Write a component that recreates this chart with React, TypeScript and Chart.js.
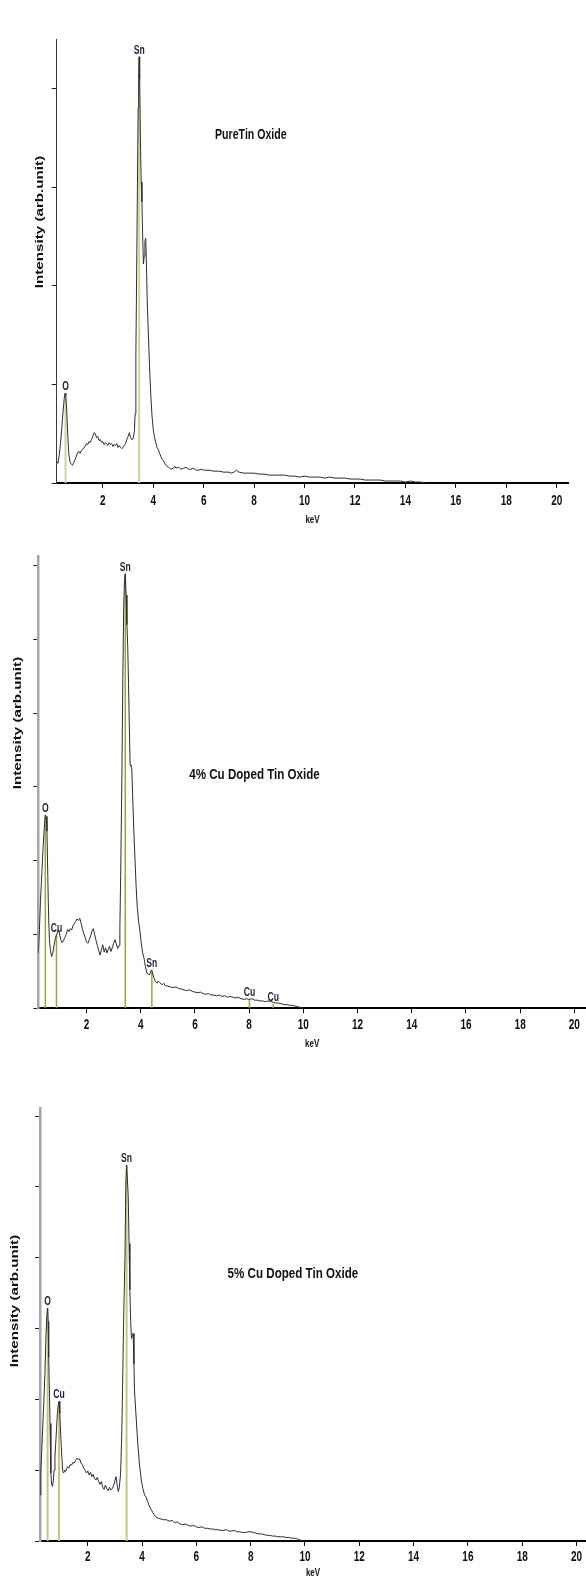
import React, { useEffect, useRef } from "react";
import { Chart, registerables } from "chart.js";

Chart.register(...registerables);

type Pt = [number, number];

// ---------- data ----------
const energyTicks = [2, 4, 6, 8, 10, 12, 14, 16, 18, 20];
const pureYTicks = [0, 1, 2, 3, 4];
const dopedYTicks = [0, 1, 2, 3, 4, 5, 6];

const yAxisTitle = "Intensity (arb.unit)";
const xAxisTitle = "keV";
const sampleNames = ["PureTin Oxide", "4% Cu Doped Tin Oxide", "5% Cu Doped Tin Oxide"];

const pureTinSpectrum: Pt[] = [
  [0.17, 0.22], [0.22, 0.2], [0.27, 0.28], [0.32, 0.4], [0.37, 0.55], [0.42, 0.72], [0.47, 0.86],
  [0.5, 0.91], [0.53, 0.89], [0.57, 0.72], [0.61, 0.48], [0.65, 0.3], [0.7, 0.21], [0.75, 0.19],
  [0.8, 0.18], [0.85, 0.21], [0.9, 0.24], [0.95, 0.27], [1.0, 0.31], [1.05, 0.32], [1.1, 0.3],
  [1.15, 0.33], [1.2, 0.34], [1.25, 0.36], [1.3, 0.37], [1.35, 0.4], [1.4, 0.39], [1.45, 0.42],
  [1.5, 0.41], [1.55, 0.44], [1.6, 0.47], [1.65, 0.51], [1.7, 0.5], [1.75, 0.46], [1.8, 0.47],
  [1.85, 0.43], [1.9, 0.44], [1.95, 0.41], [2.0, 0.42], [2.05, 0.39], [2.1, 0.41], [2.15, 0.4],
  [2.2, 0.38], [2.25, 0.41], [2.3, 0.39], [2.35, 0.4], [2.4, 0.37], [2.45, 0.39], [2.5, 0.38],
  [2.55, 0.4], [2.6, 0.36], [2.65, 0.38], [2.7, 0.36], [2.75, 0.35], [2.8, 0.36], [2.85, 0.38],
  [2.9, 0.4], [2.95, 0.44], [3.0, 0.47], [3.05, 0.51], [3.1, 0.46], [3.15, 0.44], [3.2, 0.45],
  [3.25, 0.52], [3.28, 0.7], [3.31, 1.3], [3.34, 2.1], [3.37, 2.95], [3.4, 3.8], [3.42, 4.15],
  [3.44, 4.32], [3.46, 4.1], [3.49, 3.5], [3.52, 3.05], [3.55, 2.85], [3.58, 2.5], [3.61, 2.22],
  [3.64, 2.3], [3.67, 2.45], [3.7, 2.48], [3.73, 2.2], [3.76, 1.85], [3.8, 1.55], [3.85, 1.2],
  [3.9, 0.9], [3.95, 0.68], [4.0, 0.54], [4.05, 0.46], [4.1, 0.41], [4.15, 0.36], [4.2, 0.34],
  [4.25, 0.3], [4.3, 0.27], [4.35, 0.24], [4.4, 0.23], [4.45, 0.2], [4.5, 0.18], [4.55, 0.17],
  [4.6, 0.16], [4.65, 0.15], [4.7, 0.14], [4.8, 0.15], [4.85, 0.17], [4.9, 0.15], [5.0, 0.16],
  [5.1, 0.14], [5.2, 0.15], [5.3, 0.16], [5.4, 0.14], [5.5, 0.14], [5.6, 0.15], [5.7, 0.13],
  [5.8, 0.13], [5.9, 0.14], [6.0, 0.13], [6.2, 0.13], [6.4, 0.12], [6.6, 0.12], [6.8, 0.11],
  [7.0, 0.11], [7.1, 0.1], [7.2, 0.11], [7.3, 0.13], [7.4, 0.11], [7.6, 0.1], [7.8, 0.1],
  [8.0, 0.1], [8.2, 0.09], [8.4, 0.09], [8.6, 0.08], [8.8, 0.08], [9.0, 0.08], [9.2, 0.08],
  [9.4, 0.07], [9.6, 0.07], [9.8, 0.06], [10.0, 0.07], [10.2, 0.06], [10.4, 0.06], [10.6, 0.06],
  [10.8, 0.05], [11.0, 0.06], [11.2, 0.05], [11.4, 0.05], [11.6, 0.05], [11.8, 0.04], [12.0, 0.04],
  [12.2, 0.04], [12.4, 0.03], [12.6, 0.03], [12.8, 0.03], [13.0, 0.03], [13.2, 0.02], [13.4, 0.02],
  [13.6, 0.02], [13.8, 0.02], [14.0, 0.01], [14.2, 0.02], [14.4, 0.01], [14.6, 0.01], [14.8, 0.0],
];

const cu4Spectrum: Pt[] = [
  [0.22, 0.75], [0.26, 1.05], [0.3, 1.45], [0.35, 1.83], [0.4, 2.2], [0.45, 2.5], [0.48, 2.62],
  [0.51, 2.6], [0.54, 2.4], [0.57, 1.8], [0.6, 1.25], [0.63, 0.93], [0.67, 0.78], [0.71, 0.7],
  [0.75, 0.74], [0.8, 0.85], [0.85, 0.95], [0.9, 1.0], [0.95, 1.06], [1.0, 1.02], [1.05, 0.93],
  [1.1, 0.89], [1.15, 0.92], [1.2, 0.96], [1.25, 1.0], [1.3, 1.07], [1.35, 1.04], [1.4, 1.08],
  [1.45, 1.06], [1.5, 1.12], [1.55, 1.15], [1.6, 1.18], [1.65, 1.21], [1.7, 1.19], [1.75, 1.22],
  [1.8, 1.15], [1.85, 1.07], [1.9, 1.01], [1.95, 0.96], [2.0, 0.9], [2.05, 0.88], [2.1, 0.93],
  [2.15, 0.98], [2.2, 1.05], [2.25, 1.08], [2.3, 1.0], [2.35, 0.92], [2.4, 0.85], [2.45, 0.78],
  [2.5, 0.72], [2.55, 0.8], [2.6, 0.86], [2.65, 0.76], [2.7, 0.82], [2.75, 0.75], [2.8, 0.8],
  [2.85, 0.84], [2.9, 0.77], [2.95, 0.82], [3.0, 0.88], [3.05, 0.93], [3.1, 0.87], [3.15, 0.81],
  [3.2, 0.85], [3.23, 1.1], [3.26, 1.8], [3.3, 3.0], [3.34, 4.5], [3.37, 5.4], [3.4, 5.8],
  [3.43, 5.89], [3.46, 5.6], [3.49, 5.2], [3.52, 4.9], [3.55, 4.4], [3.58, 3.8], [3.61, 3.3],
  [3.64, 3.28], [3.67, 3.25], [3.7, 2.9], [3.74, 2.45], [3.79, 2.0], [3.83, 1.65], [3.87, 1.38],
  [3.92, 1.18], [3.97, 1.05], [4.02, 0.88], [4.07, 0.75], [4.12, 0.68], [4.17, 0.57], [4.22, 0.48],
  [4.27, 0.47], [4.32, 0.45], [4.37, 0.5], [4.4, 0.52], [4.45, 0.46], [4.5, 0.4], [4.55, 0.36],
  [4.6, 0.34], [4.65, 0.37], [4.7, 0.35], [4.75, 0.33], [4.8, 0.32], [4.85, 0.34], [4.9, 0.31],
  [5.0, 0.3], [5.1, 0.29], [5.2, 0.28], [5.3, 0.29], [5.4, 0.27], [5.5, 0.26], [5.6, 0.25],
  [5.7, 0.24], [5.8, 0.25], [5.9, 0.23], [6.0, 0.22], [6.1, 0.21], [6.2, 0.22], [6.3, 0.2],
  [6.4, 0.19], [6.5, 0.2], [6.6, 0.18], [6.7, 0.18], [6.8, 0.17], [6.9, 0.18], [7.0, 0.16],
  [7.1, 0.17], [7.2, 0.15], [7.3, 0.16], [7.4, 0.15], [7.5, 0.14], [7.6, 0.15], [7.7, 0.13],
  [7.8, 0.12], [7.9, 0.13], [8.0, 0.12], [8.1, 0.13], [8.2, 0.11], [8.3, 0.11], [8.4, 0.1],
  [8.5, 0.1], [8.6, 0.09], [8.7, 0.1], [8.8, 0.09], [8.9, 0.08], [9.0, 0.07], [9.1, 0.07],
  [9.2, 0.06], [9.3, 0.05], [9.4, 0.05], [9.5, 0.04], [9.6, 0.04], [9.7, 0.03], [9.8, 0.02],
  [9.9, 0.01], [10.0, 0.0],
];

const cu5Spectrum: Pt[] = [
  [0.24, 0.65], [0.27, 0.96], [0.3, 1.25], [0.34, 1.6], [0.38, 1.95], [0.42, 2.35], [0.46, 2.9],
  [0.49, 3.17], [0.52, 3.29], [0.54, 3.1], [0.56, 2.6], [0.59, 2.05], [0.61, 1.66], [0.64, 0.96],
  [0.67, 0.8], [0.7, 0.77], [0.73, 0.85], [0.76, 1.0], [0.79, 1.19], [0.83, 1.45], [0.88, 1.8],
  [0.91, 1.92], [0.94, 1.97], [0.97, 1.8], [1.01, 1.43], [1.05, 1.15], [1.08, 0.98], [1.11, 0.96],
  [1.15, 1.0], [1.18, 0.98], [1.22, 1.02], [1.26, 1.05], [1.3, 1.03], [1.35, 1.08], [1.4, 1.07],
  [1.45, 1.11], [1.5, 1.1], [1.55, 1.14], [1.6, 1.17], [1.65, 1.15], [1.7, 1.16], [1.75, 1.1],
  [1.8, 1.08], [1.85, 1.03], [1.9, 1.0], [1.95, 0.96], [2.0, 0.99], [2.05, 0.93], [2.1, 0.97],
  [2.15, 0.91], [2.2, 0.94], [2.25, 0.88], [2.3, 0.86], [2.35, 0.9], [2.4, 0.84], [2.45, 0.8],
  [2.5, 0.84], [2.55, 0.76], [2.6, 0.73], [2.65, 0.79], [2.7, 0.74], [2.75, 0.71], [2.8, 0.76],
  [2.85, 0.72], [2.9, 0.74], [2.95, 0.78], [3.0, 0.85], [3.04, 0.91], [3.08, 0.8], [3.12, 0.7],
  [3.16, 0.75], [3.21, 0.96], [3.25, 1.5], [3.28, 2.13], [3.32, 3.1], [3.37, 4.02], [3.4, 5.0],
  [3.43, 5.31], [3.46, 5.1], [3.49, 4.86], [3.52, 4.2], [3.55, 3.55], [3.58, 3.1], [3.61, 2.86],
  [3.64, 2.9], [3.67, 2.93], [3.7, 2.5], [3.72, 2.13], [3.78, 1.75], [3.84, 1.38], [3.9, 1.1],
  [3.97, 0.86], [4.03, 0.74], [4.09, 0.65], [4.15, 0.62], [4.2, 0.56], [4.28, 0.48], [4.34, 0.44],
  [4.4, 0.4], [4.45, 0.37], [4.51, 0.34], [4.6, 0.32], [4.7, 0.31], [4.8, 0.3], [4.9, 0.3],
  [5.0, 0.28], [5.1, 0.29], [5.2, 0.26], [5.3, 0.27], [5.4, 0.24], [5.5, 0.23], [5.6, 0.24],
  [5.7, 0.22], [5.8, 0.21], [5.9, 0.22], [6.0, 0.2], [6.1, 0.19], [6.2, 0.2], [6.3, 0.18],
  [6.4, 0.18], [6.5, 0.17], [6.6, 0.17], [6.7, 0.16], [6.8, 0.16], [6.9, 0.15], [7.0, 0.15],
  [7.1, 0.16], [7.2, 0.14], [7.3, 0.14], [7.4, 0.15], [7.5, 0.13], [7.6, 0.13], [7.7, 0.12],
  [7.8, 0.12], [7.9, 0.13], [8.0, 0.13], [8.1, 0.12], [8.2, 0.11], [8.3, 0.1], [8.4, 0.1],
  [8.5, 0.09], [8.6, 0.08], [8.7, 0.08], [8.8, 0.07], [8.9, 0.07], [9.0, 0.06], [9.1, 0.06],
  [9.2, 0.06], [9.3, 0.05], [9.4, 0.05], [9.5, 0.04], [9.6, 0.04], [9.7, 0.03], [9.8, 0.02],
  [9.9, 0.0],
];

const pureTinPeakNames = ["O", "Sn"];
const pureTinPeakEnergies = [0.52, 3.44];
const pureTinPeakHeights = [0.91, 4.32];

const cu4PeakNames = ["O", "Cu", "Sn", "Sn", "Cu", "Cu"];
const cu4PeakEnergies = [0.48, 0.89, 3.43, 4.41, 8.01, 8.89];
const cu4PeakHeights = [2.62, 1.0, 5.89, 0.52, 0.12, 0.06];

const cu5PeakNames = ["O", "Cu", "Sn"];
const cu5PeakEnergies = [0.52, 0.94, 3.43];
const cu5PeakHeights = [3.29, 1.97, 5.31];

// ---------- layout / style ----------
type PanelCfg = {
  top: number; bottom: number;
  plotLeft: number; plotRight: number; plotTop: number; plotBottom: number;
  xMin: number; xMax: number; yMax: number;
  spectrum: Pt[]; yTicks: number[];
  peakNames: string[]; peakEnergies: number[]; peakHeights: number[];
  name: string; nameX: number; nameY: number; nameFont: number;
  markerColor: string; markerWidth: number;
  yAxisColor: string; yAxisWidth: number;
  tickLabelOffset: number; keVY: number; yTitleX: number; yTitleY: number;
};

const panels: PanelCfg[] = [
  {
    top: 0, bottom: 532, plotLeft: 56.7, plotRight: 568.3, plotTop: 39, plotBottom: 483,
    xMin: 0.17, xMax: 20.46, yMax: 4.5, spectrum: pureTinSpectrum, yTicks: pureYTicks,
    peakNames: pureTinPeakNames, peakEnergies: pureTinPeakEnergies, peakHeights: pureTinPeakHeights,
    name: sampleNames[0], nameX: 6.45, nameY: 3.53, nameFont: 10.6,
    markerColor: "#d6d296", markerWidth: 2, yAxisColor: "#3a3a3a", yAxisWidth: 1,
    tickLabelOffset: 18, keVY: 520, yTitleX: 40.5, yTitleY: 222,
  },
  {
    top: 532, bottom: 1082, plotLeft: 38.3, plotRight: 586, plotTop: 556.7, plotBottom: 1008.3,
    xMin: 0.22, xMax: 20.43, yMax: 6.12, spectrum: cu4Spectrum, yTicks: dopedYTicks,
    peakNames: cu4PeakNames, peakEnergies: cu4PeakEnergies, peakHeights: cu4PeakHeights,
    name: sampleNames[1], nameX: 5.79, nameY: 3.17, nameFont: 11.6,
    markerColor: "#a89e3c", markerWidth: 1.5, yAxisColor: "#a6a6a6", yAxisWidth: 2.5,
    tickLabelOffset: 17, keVY: 1044, yTitleX: 18.5, yTitleY: 723,
  },
  {
    top: 1082, bottom: 1580, plotLeft: 40, plotRight: 586, plotTop: 1108.3, plotBottom: 1541,
    xMin: 0.24, xMax: 20.35, yMax: 6.11, spectrum: cu5Spectrum, yTicks: dopedYTicks,
    peakNames: cu5PeakNames, peakEnergies: cu5PeakEnergies, peakHeights: cu5PeakHeights,
    name: sampleNames[2], nameX: 7.15, nameY: 3.77, nameFont: 11.6,
    markerColor: "#cac57e", markerWidth: 2, yAxisColor: "#a6a6a6", yAxisWidth: 2.5,
    tickLabelOffset: 16, keVY: 1573.3, yTitleX: 15.5, yTitleY: 1301,
  },
];

const SANS = "'Liberation Sans', Arial, 'DejaVu Sans', sans-serif";

function putText(
  ctx: CanvasRenderingContext2D, text: string, x: number, y: number,
  font: string, color: string, stretch: number,
  align: CanvasTextAlign = "center", baseline: CanvasTextBaseline = "middle", rotate = false
) {
  ctx.save();
  ctx.translate(x, y);
  ctx.scale(1, stretch);
  if (rotate) ctx.rotate(-Math.PI / 2);
  ctx.font = font;
  ctx.fillStyle = color;
  ctx.textAlign = align;
  ctx.textBaseline = baseline;
  ctx.fillText(text, 0, 0);
  ctx.restore();
}

function SpectrumPanel({ cfg }: { cfg: PanelCfg }) {
  const ref = useRef<HTMLCanvasElement>(null);
  const H = cfg.bottom - cfg.top;

  useEffect(() => {
    const canvas = ref.current;
    if (!canvas) return;
    const plotBottom = cfg.plotBottom - cfg.top;

    const textPlugin = {
      id: "spectrumTexts",
      afterDraw(chart: any) {
        const ctx: CanvasRenderingContext2D = chart.ctx;
        const xs = chart.scales.x;
        const ys = chart.scales.y;
        const area = chart.chartArea;
        energyTicks.forEach((v) => {
          putText(ctx, String(v), xs.getPixelForValue(v), plotBottom + cfg.tickLabelOffset,
            `bold 10px ${SANS}`, "#111", 1.4);
        });
        putText(ctx, xAxisTitle, (area.left + area.right) / 2, cfg.keVY - cfg.top,
          `bold 8px ${SANS}`, "#111", 1.4);
        putText(ctx, yAxisTitle, cfg.yTitleX, cfg.yTitleY - cfg.top,
          `bold 10.7px ${SANS}`, "#111", 1.42, "center", "middle", true);
        putText(ctx, cfg.name, xs.getPixelForValue(cfg.nameX), ys.getPixelForValue(cfg.nameY),
          `bold ${cfg.nameFont}px ${SANS}`, "#111", 1.3, "left");
        cfg.peakNames.forEach((n, i) => {
          putText(ctx, n, xs.getPixelForValue(cfg.peakEnergies[i]),
            ys.getPixelForValue(cfg.peakHeights[i]) - 3,
            `bold 8.6px ${SANS}`, "#1c2038", 1.45, "center", "alphabetic");
        });
      },
    };

    const markerSets = cfg.peakEnergies.map((e, i) => ({
      type: "line" as const,
      data: [{ x: e, y: 0 }, { x: e, y: cfg.peakHeights[i] }],
      borderColor: cfg.markerColor,
      borderWidth: cfg.markerWidth,
      pointRadius: 0,
      fill: false,
    }));

    const chart = new Chart(canvas, {
      type: "line",
      data: {
        datasets: [
          {
            type: "line",
            data: cfg.spectrum.map(([x, y]) => ({ x, y })),
            borderColor: "#2e2e2e",
            borderWidth: 1,
            pointRadius: 0,
            tension: 0,
            fill: false,
          },
          ...markerSets,
        ],
      },
      options: {
        animation: false,
        responsive: false,
        devicePixelRatio: 1,
        events: [],
        layout: { padding: { top: cfg.plotTop - cfg.top, right: 586 - cfg.plotRight, left: 0, bottom: 0 } },
        plugins: { legend: { display: false }, tooltip: { enabled: false }, title: { display: false } },
        scales: {
          x: {
            type: "linear",
            min: cfg.xMin,
            max: cfg.xMax,
            afterBuildTicks: (s: any) => { s.ticks = energyTicks.map((v) => ({ value: v })); },
            afterFit: (s: any) => { s.height = H - plotBottom; },
            ticks: { display: false },
            grid: { drawOnChartArea: false, drawTicks: true, tickLength: 5, color: "#111", lineWidth: 1 },
            border: { display: true, color: "#000", width: 2 },
          },
          y: {
            type: "linear",
            min: 0,
            max: cfg.yMax,
            afterBuildTicks: (s: any) => { s.ticks = cfg.yTicks.map((v) => ({ value: v })); },
            afterFit: (s: any) => { s.width = cfg.plotLeft; },
            ticks: { display: false },
            grid: { drawOnChartArea: false, drawTicks: true, tickLength: 5, color: "#222", lineWidth: 1 },
            border: { display: true, color: cfg.yAxisColor, width: cfg.yAxisWidth },
          },
        },
      } as any,
      plugins: [textPlugin],
    });
    return () => chart.destroy();
  }, [cfg]);

  return (
    <canvas
      ref={ref}
      width={586}
      height={H}
      style={{ position: "absolute", left: 0, top: cfg.top, width: 586, height: H }}
    />
  );
}

export default function App() {
  return (
    <div style={{ position: "absolute", left: 0, top: 0, width: 586, height: 1580, background: "#fff" }}>
      {panels.map((p, i) => (
        <SpectrumPanel key={i} cfg={p} />
      ))}
    </div>
  );
}
